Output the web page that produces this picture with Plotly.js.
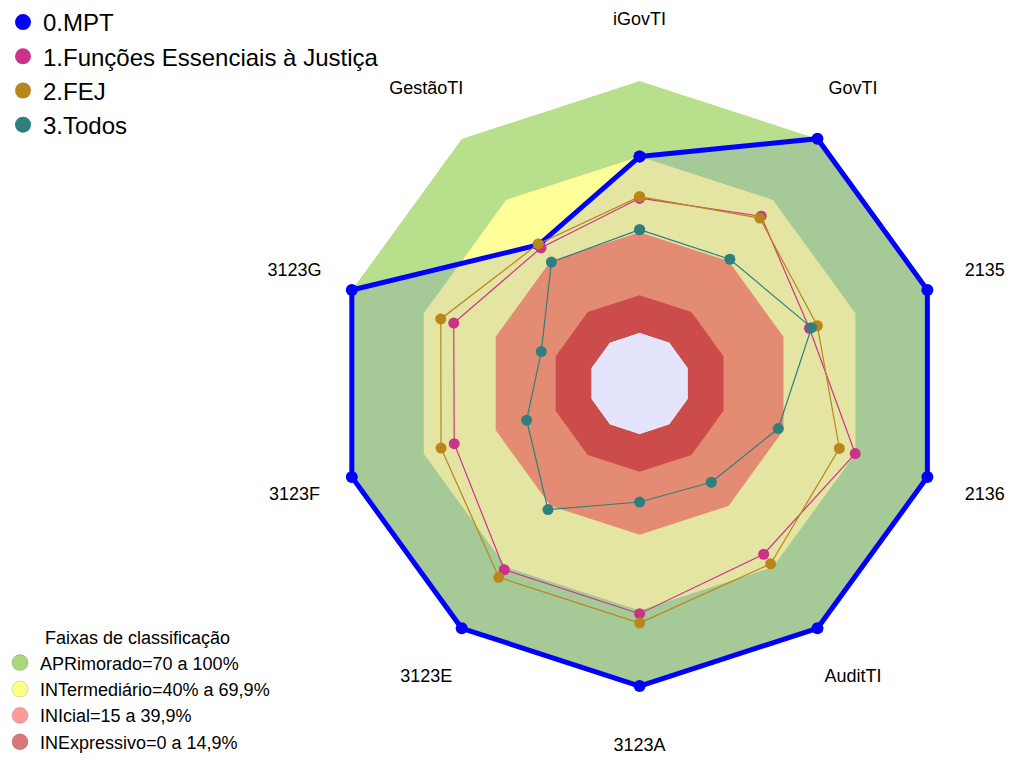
<!DOCTYPE html>
<html><head><meta charset="utf-8">
<script src="https://cdn.plot.ly/plotly-3.0.1.min.js"></script>
<style>html,body{margin:0;padding:0;background:#fff}</style>
</head><body><div id="chart" style="width:1009px;height:760px"></div>
<script>
// ---- data ----
const categories = ["iGovTI","GovTI","2135","2136","AuditTI","3123A","3123E","3123F","3123G","GestãoTI"];
const seriesNames = ["0.MPT","1.Funções Essenciais à Justiça","2.FEJ","3.Todos"];
const mpt      = [70, 100, 100, 100, 100, 100, 100, 100, 100, 48];
const funcoes  = [53.5, 62, 50.8, 69.9, 63.7, 71.3, 71.3, 57.3, 57.5, 46.5];
const fej      = [54.1, 61.1, 54.1, 63.3, 68.4, 75, 75, 62.8, 62.9, 48.4];
const todos    = [41, 40.9, 51.7, 37.8, 28.4, 27, 41.8, 27.1, 21, 39.5];
const bandNames = ["APRimorado=70 a 100%","INTermediário=40% a 69,9%","INIcial=15 a 39,9%","INExpressivo=0 a 14,9%"];
const bandTop   = [100, 70, 40, 15];
const bandBase  = 0;

// ---- geometry / styles ----
const W = 1009, H = 760;
const CX = 638.5, CY = 383.5, R = 303.5;      // main polar centre and outer radius (px)
const HOLE = 1/6;                              // hollow centre (fraction of radius)
const LABEL_PX = 364;                          // radius where category labels are centred (px)
const OUTER_PX = 370.5;                        // radius of the overlay subplot (px)
const rMin = -HOLE/(1-HOLE)*100;               // radial value at the very centre
const labelR = rMin + (LABEL_PX/R)*(100-rMin);
const overlayMax = rMin + (OUTER_PX/R)*(100-rMin);

const seriesColors = ["#0000FF","#CC3388","#B8861B","#2E7F7F"];
const bandFill     = ["#B8E08C","#FFFF99","#E48C73","#CC4C4C"];
const bandLegend   = ["#A8D878","#FFFF88","#FF9A9A","#D87878"];
const centreColor  = "#E4E4FC";
const gridCol = "#C8C8DC";
const FONT = "Liberation Sans, Arial, sans-serif";

function closed(a){ return a.concat([a[0]]); }
function ring(top){
  const n = categories.length;
  const r = [], t = [];
  for (let i=0;i<=n;i++){ r.push(top); t.push(categories[i%n]); }
  for (let i=n;i>=0;i--){ r.push(bandBase); t.push(categories[i%n]); }
  return {r, t};
}
function bandTrace(i){
  const g = ring(bandTop[i]);
  return {type:'scatterpolar', r:g.r, theta:g.t, mode:'none', fill:'toself',
    fillcolor:bandFill[i], showlegend:false, hoverinfo:'skip'};
}

const traces = [];
// main subplot: classification bands + MPT area
traces.push(bandTrace(0));
traces.push(bandTrace(1));
traces.push({type:'scatterpolar', r:closed(mpt), theta:closed(categories), mode:'none',
  fill:'toself', fillcolor:'rgba(0,0,255,0.1)', showlegend:false, hoverinfo:'skip'});
traces.push(bandTrace(2));
traces.push(bandTrace(3));

// overlay subplot (same scale, not clipped at 100): centre, series lines, labels
traces.push({type:'scatterpolar', subplot:'polar2', r:closed(categories.map(()=>bandBase)),
  theta:closed(categories), mode:'none', fill:'toself', fillcolor:centreColor,
  showlegend:false, hoverinfo:'skip'});
traces.push({type:'scatterpolar', subplot:'polar2', r:closed(mpt), theta:closed(categories),
  mode:'lines+markers', line:{color:seriesColors[0], width:5},
  marker:{color:seriesColors[0], size:12}, name:seriesNames[0], showlegend:false, cliponaxis:false});
const others = [funcoes, fej, todos];
others.forEach((v,k)=>{
  traces.push({type:'scatterpolar', subplot:'polar2', r:closed(v), theta:closed(categories),
    mode:'lines+markers', line:{color:seriesColors[k+1], width:1.2},
    marker:{color:seriesColors[k+1], size:11}, name:seriesNames[k+1], showlegend:false, cliponaxis:false});
});
traces.push({type:'scatterpolar', subplot:'polar2', r:categories.map(()=>labelR), theta:categories,
  mode:'text', text:categories, textposition:'middle center', cliponaxis:false,
  textfont:{size:18, color:'#000', family:FONT}, showlegend:false, hoverinfo:'skip'});

// legend entries
seriesNames.forEach((nm,k)=>{
  traces.push({type:'scatterpolar', r:[null], theta:[null], mode:'markers',
    marker:{color:seriesColors[k], size:16}, name:nm, legend:'legend', showlegend:true});
});
bandNames.forEach((nm,k)=>{
  traces.push({type:'scatterpolar', r:[null], theta:[null], mode:'markers',
    marker:{color:bandLegend[k], size:16, line:{color:'rgba(0,0,0,0.15)', width:1}},
    name:nm, legend:'legend2', showlegend:true});
});

const layout = {
  width:W, height:H,
  margin:{l:0, r:0, t:0, b:0},
  paper_bgcolor:'#ffffff',
  font:{family:FONT, color:'#000'},
  polar:{
    domain:{x:[(CX-R)/W, (CX+R)/W], y:[1-(CY+R)/H, 1-(CY-R)/H]},
    hole:HOLE,
    gridshape:'linear',
    bgcolor:'rgba(0,0,0,0)',
    radialaxis:{range:[0,100], tickvals:[0,15,40,70,100], showticklabels:false, ticks:'',
      showline:false, gridcolor:gridCol, gridwidth:1},
    angularaxis:{direction:'clockwise', rotation:90, showticklabels:false, ticks:'',
      gridcolor:gridCol, showline:false}
  },
  polar2:{
    domain:{x:[(CX-OUTER_PX)/W, (CX+OUTER_PX)/W], y:[1-(CY+OUTER_PX)/H, 1-(CY-OUTER_PX)/H]},
    bgcolor:'rgba(0,0,0,0)',
    gridshape:'linear',
    radialaxis:{visible:false, range:[rMin, overlayMax]},
    angularaxis:{visible:false, direction:'clockwise', rotation:90}
  },
  legend:{x:0, xanchor:'left', y:1, yanchor:'top', font:{size:24, family:FONT},
    bgcolor:'rgba(0,0,0,0)'},
  legend2:{x:-3/W, xanchor:'left', y:0, yanchor:'bottom', font:{size:18, family:FONT},
    bgcolor:'rgba(0,0,0,0)',
    title:{text:'Faixas de classificação', side:'top center', font:{size:18, family:FONT}}},
  showlegend:true
};

Plotly.newPlot('chart', traces, layout, {displayModeBar:false, staticPlot:true});
</script>
</body></html>
